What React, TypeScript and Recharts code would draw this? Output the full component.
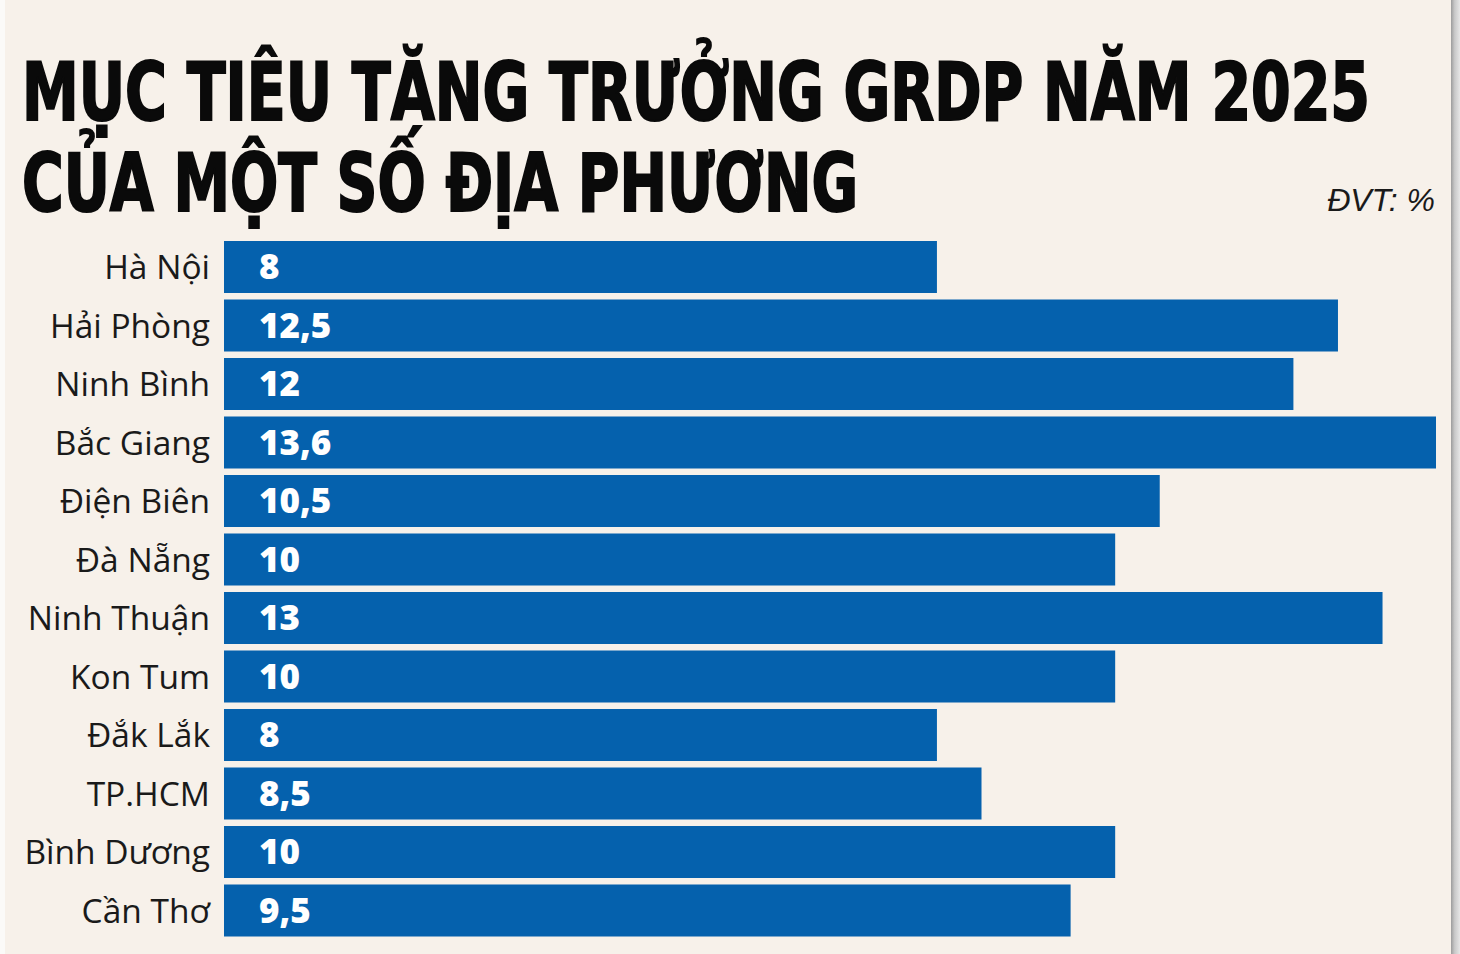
import React from 'react';
import { BarChart, Bar, XAxis, YAxis, LabelList } from 'recharts';

const provinces = [
  'Hà Nội',
  'Hải Phòng',
  'Ninh Bình',
  'Bắc Giang',
  'Điện Biên',
  'Đà Nẵng',
  'Ninh Thuận',
  'Kon Tum',
  'Đắk Lắk',
  'TP.HCM',
  'Bình Dương',
  'Cần Thơ',
];
const targets = [8, 12.5, 12, 13.6, 10.5, 10, 13, 10, 8, 8.5, 10, 9.5];
const titleLines = ['MỤC TIÊU TĂNG TRƯỞNG GRDP NĂM 2025', 'CỦA MỘT SỐ ĐỊA PHƯƠNG'];
const unitLabel = 'ĐVT: %';
const xDomain = [0, 13.6];

const data = provinces.map((name, i) => ({ name, value: targets[i] }));

const BG = '#f7f1ea';
const BAR = '#0561ad';
const TITLE_FONT = '"Liberation Sans Narrow", "DejaVu Sans Condensed", "Roboto", sans-serif';

export default function App() {
  return (
    <div
      style={{
        position: 'absolute',
        top: 0,
        left: 0,
        width: 1460,
        height: 954,
        background: BG,
        overflow: 'hidden',
      }}
    >
      <div style={{ position: 'absolute', left: 0, top: 0, width: 5, height: 954, background: '#fbfaf8' }} />
      <div
        style={{
          position: 'absolute',
          left: 1451,
          top: 0,
          width: 9,
          height: 954,
          background: 'linear-gradient(to right, #9c9c9c, #c8c8c8 40%, #e6e6e6)',
        }}
      />
      <svg width={1450} height={236} style={{ position: 'absolute', left: 0, top: 0, overflow: 'visible' }}>
        <text
          x={22}
          y={120}
          textLength={1348}
          lengthAdjust="spacingAndGlyphs"
          style={{ fontFamily: TITLE_FONT, fontWeight: 700, fontSize: 80 }}
          fill="#0a0a0a"
          stroke="#0a0a0a"
          strokeWidth={2}
        >
          {titleLines[0]}
        </text>
        <text
          x={22}
          y={211}
          textLength={836}
          lengthAdjust="spacingAndGlyphs"
          style={{ fontFamily: TITLE_FONT, fontWeight: 700, fontSize: 80 }}
          fill="#0a0a0a"
          stroke="#0a0a0a"
          strokeWidth={2}
        >
          {titleLines[1]}
        </text>
        <text
          x={1435}
          y={211}
          textAnchor="end"
          style={{ fontFamily: '"Liberation Sans", Arial, sans-serif', fontStyle: 'italic', fontSize: 32 }}
          fill="#1a1a1a"
        >
          {unitLabel}
        </text>
      </svg>
      <div style={{ position: 'absolute', left: 0, top: 0 }}>
        <BarChart
          width={1460}
          height={954}
          data={data}
          layout="vertical"
          margin={{ top: 238, right: 24, bottom: 14, left: 0 }}
        >
          <XAxis type="number" domain={xDomain} hide />
          <YAxis
            type="category"
            dataKey="name"
            width={224}
            axisLine={false}
            tickLine={false}
            tickSize={0}
            tickMargin={14}
            interval={0}
            tick={{ fontSize: 33.5, fill: '#1a1a1a', fontFamily: '"Open Sans", "Noto Sans", sans-serif' }}
          />
          <Bar dataKey="value" fill={BAR} barSize={52} isAnimationActive={false}>
            <LabelList
              dataKey="value"
              position="insideLeft"
              offset={35}
              fill="#ffffff"
              formatter={(v: any) => String(v).replace('.', ',')}
              style={{ fontSize: 35, fontWeight: 800, fontFamily: '"Open Sans", "Noto Sans", sans-serif' }}
            />
          </Bar>
        </BarChart>
      </div>
    </div>
  );
}
